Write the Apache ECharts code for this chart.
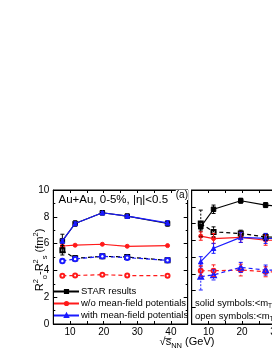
<!DOCTYPE html>
<html>
<head>
<meta charset="utf-8">
<script src="https://cdn.jsdelivr.net/npm/echarts@6/dist/echarts.min.js"></script>
<style>html,body{margin:0;padding:0;background:#fff;overflow:hidden}#c{width:400px;height:352px}</style>
</head>
<body>
<div id="c"></div>
<script>
// ---- data ----
const energies = [7.7, 11.5, 19.6, 27, 39];
const xTickLabels = [10, 20, 30, 40];
const yTickLabels = [0, 2, 4, 6, 8, 10];

// left panel (a)
const starSolidL = [6.2, 7.5, 8.3, 8.05, 7.5];
const starSolidLErr = [0.5, 0.2, 0.15, 0.15, 0.2];
const starOpenL = [5.5, 4.9, 5.05, 5.0, 4.75];
const starOpenLErr = [0.35, 0.2, 0.15, 0.15, 0.15];
const redSolidL = [5.82, 5.88, 5.95, 5.8, 5.85];
const redOpenL = [3.6, 3.62, 3.68, 3.62, 3.6];
const blueSolidL = [6.2, 7.5, 8.3, 8.05, 7.55];
const blueSolidLErr = [0.12, 0.12, 0.1, 0.1, 0.15];
const blueOpenL = [4.7, 4.85, 5.05, 4.95, 4.75];
const blueOpenLErr = [0.1, 0.12, 0.1, 0.1, 0.15];

// right panel (cut off)
const starSolidR = [5.8, 6.85, 7.36, 7.1, 6.9];
const starSolidRErr = [0.25, 0.25, 0.15, 0.15, 0.15];
const starOpenR = [6.0, 5.5, 5.4, 5.2, 5.1];
const starOpenRErr = [0.8, 0.3, 0.2, 0.2, 0.2];
const redSolidR = [5.25, 5.1, 5.17, 5.0, 5.0];
const redSolidRErr = [0.25, 0.3, 0.3, 0.3, 0.3];
const blueSolidR = [3.72, 4.52, 5.17, 5.11, 5.1];
const blueSolidRErr = [0.3, 0.3, 0.3, 0.3, 0.3];
const redOpenR = [3.18, 3.18, 3.22, 3.12, 3.1];
const redOpenRErr = [0.3, 0.35, 0.35, 0.3, 0.3];
const blueOpenR = [2.83, 2.93, 3.38, 3.22, 3.2];
const blueOpenRErr = [0.8, 0.3, 0.3, 0.3, 0.3];

const FONT = '"Liberation Sans", Arial, sans-serif';
const BLACK = '#000000', RED = '#ff1a1a', BLUE = '#1a1aff';

const zip = (v) => energies.map((x, i) => [x, v[i]]);
const zipE = (v, e) => energies.map((x, i) => [x, v[i], e[i]]);

function errSeries(v, e, color, xi, yi, dashed) {
  return {
    type: 'custom', xAxisIndex: xi, yAxisIndex: yi, z: 3, silent: true,
    data: zipE(v, e),
    renderItem: function (params, api) {
      const x = api.value(0), y = api.value(1), er = api.value(2);
      const p1 = api.coord([x, y + er]);
      const p2 = api.coord([x, y - er]);
      const w = 2;
      const st = { stroke: color, lineWidth: 1, lineDash: dashed ? [2, 1.5] : null };
      return {
        type: 'group',
        children: [
          { type: 'line', shape: { x1: p1[0], y1: p1[1], x2: p2[0], y2: p2[1] }, style: st },
          { type: 'line', shape: { x1: p1[0] - w, y1: p1[1], x2: p1[0] + w, y2: p1[1] }, style: { stroke: color, lineWidth: 1 } },
          { type: 'line', shape: { x1: p2[0] - w, y1: p2[1], x2: p2[0] + w, y2: p2[1] }, style: { stroke: color, lineWidth: 1 } }
        ]
      };
    }
  };
}

function lineSeries(name, v, color, symbol, size, dashed, xi, yi, z) {
  return {
    name: name, type: 'line', xAxisIndex: xi, yAxisIndex: yi, z: z || 2,
    data: zip(v), symbol: symbol, symbolSize: size,
    lineStyle: { color: color, width: 1.2, type: dashed ? [4, 3] : 'solid' },
    itemStyle: { color: color, borderColor: color, borderWidth: 1 },
    emphasis: { disabled: true }
  };
}

const xAxisBase = (gi, pos, showLabel) => ({
  gridIndex: gi, type: 'value', position: pos, min: 5, max: 45, interval: 5,
  axisLine: { show: true, onZero: false, lineStyle: { color: BLACK, width: 1 } },
  axisTick: { show: true, inside: true, length: 3, lineStyle: { color: BLACK } },
  axisLabel: {
    show: showLabel, color: BLACK, fontSize: 10, fontFamily: FONT, margin: 3,
    formatter: (v) => (xTickLabels.indexOf(v) >= 0 ? String(v) : '')
  },
  splitLine: { show: false }
});

const option = {
  animation: false,
  backgroundColor: '#fff',
  grid: [
    { left: 53.3, top: 190, width: 134.4, height: 134, show: true, borderColor: BLACK, borderWidth: 1, backgroundColor: 'transparent' },
    { left: 191.7, top: 190, width: 134.4, height: 134, show: true, borderColor: BLACK, borderWidth: 1, backgroundColor: 'transparent' }
  ],
  xAxis: [
    xAxisBase(0, 'bottom', true),
    xAxisBase(1, 'bottom', true),
    xAxisBase(0, 'top', false),
    xAxisBase(1, 'top', false)
  ],
  yAxis: [
    {
      gridIndex: 0, type: 'value', min: 0, max: 10, interval: 2,
      axisLine: { show: true, lineStyle: { color: BLACK } },
      axisTick: { show: true, inside: true, length: 4, lineStyle: { color: BLACK } },
      minorTick: { show: true, splitNumber: 2, length: 2, lineStyle: { color: BLACK } },
      axisLabel: { color: BLACK, fontSize: 10, fontFamily: FONT, margin: 4,
        formatter: (v) => (yTickLabels.indexOf(v) >= 0 ? String(v) : '') },
      splitLine: { show: false }
    },
    {
      gridIndex: 0, type: 'value', position: 'right', min: 0, max: 10, interval: 2,
      axisLine: { show: true, lineStyle: { color: BLACK } },
      axisTick: { show: true, inside: true, length: 4, lineStyle: { color: BLACK } },
      minorTick: { show: true, splitNumber: 2, length: 2, lineStyle: { color: BLACK } },
      axisLabel: { show: false }, splitLine: { show: false }
    },
    {
      gridIndex: 1, type: 'value', min: 0, max: 8, interval: 1,
      axisLine: { show: true, lineStyle: { color: BLACK } },
      axisTick: { show: true, inside: true, length: 4, lineStyle: { color: BLACK } },
      axisLabel: { show: false }, splitLine: { show: false }
    }
  ],
  legend: {
    data: ['STAR results', 'w/o mean-field potentials', 'with mean-field potentials'],
    orient: 'vertical', left: 53, top: 286.5,
    itemWidth: 25, itemHeight: 4, itemGap: 2, padding: 0,
    selectedMode: false,
    textStyle: { color: BLACK, fontSize: 9.5, fontFamily: FONT, lineHeight: 10, padding: [0, 0, 0, -3] }
  },
  series: [
    // left panel
    lineSeries('w/o open L', redOpenL, RED, 'emptyCircle', 4, true, 0, 0),
    lineSeries('STAR open L', starOpenL, BLACK, 'emptyRect', 4, true, 0, 0),
    errSeries(starOpenL, starOpenLErr, BLACK, 0, 0, false),
    lineSeries('with open L', blueOpenL, BLUE, 'emptyCircle', 4.5, true, 0, 0, 4),
    errSeries(blueOpenL, blueOpenLErr, BLUE, 0, 0, false),
    lineSeries('w/o mean-field potentials', redSolidL, RED, 'circle', 4, false, 0, 0),
    lineSeries('STAR results', starSolidL, BLACK, 'rect', 4.5, false, 0, 0),
    errSeries(starSolidL, starSolidLErr, BLACK, 0, 0, false),
    lineSeries('with mean-field potentials', blueSolidL, BLUE, 'triangle', 4.5, false, 0, 0, 4),
    errSeries(blueSolidL, blueSolidLErr, BLUE, 0, 0, false),
    // right panel
    lineSeries('STAR open R', starOpenR, BLACK, 'emptyRect', 4, true, 1, 2),
    errSeries(starOpenR, starOpenRErr, BLACK, 1, 2, true),
    lineSeries('STAR solid R', starSolidR, BLACK, 'rect', 4.5, false, 1, 2),
    errSeries(starSolidR, starSolidRErr, BLACK, 1, 2, false),
    lineSeries('red solid R', redSolidR, RED, 'circle', 4, false, 1, 2),
    errSeries(redSolidR, redSolidRErr, RED, 1, 2, false),
    lineSeries('blue solid R', blueSolidR, BLUE, 'triangle', 4.5, false, 1, 2),
    errSeries(blueSolidR, blueSolidRErr, BLUE, 1, 2, false),
    lineSeries('red open R', redOpenR, RED, 'emptyCircle', 4, true, 1, 2),
    errSeries(redOpenR, redOpenRErr, RED, 1, 2, true),
    lineSeries('blue open R', blueOpenR, BLUE, 'emptyTriangle', 4.5, true, 1, 2),
    errSeries(blueOpenR, blueOpenRErr, BLUE, 1, 2, true)
  ],
  graphic: [
    { type: 'text', x: 58.5, y: 200, z: 10,
      style: { text: 'Au+Au, 0-5%, |\u03b7|<0.5', fontSize: 11.5, fontFamily: FONT, fill: BLACK, verticalAlign: 'middle' } },
    { type: 'text', x: 188, y: 195, z: 10,
      style: { text: '(a)', fontSize: 10, fontFamily: FONT, fill: BLACK, align: 'right', verticalAlign: 'middle', backgroundColor: '#fff' } },
    { type: 'text', x: 195, y: 303, z: 10,
      style: { text: '{a|solid symbols:<m}{s|T}{a|>=0.15-0.25 GeV}', fill: BLACK,
        rich: { a: { fontSize: 9.5, fontFamily: FONT, lineHeight: 13, verticalAlign: 'middle' },
                s: { fontSize: 6.5, fontFamily: FONT, lineHeight: 7, verticalAlign: 'bottom' } },
        verticalAlign: 'middle' } },
    { type: 'text', x: 195, y: 316, z: 10,
      style: { text: '{a|open symbols:<m}{s|T}{a|>=0.35-0.45 GeV}', fill: BLACK,
        rich: { a: { fontSize: 9.5, fontFamily: FONT, lineHeight: 13, verticalAlign: 'middle' },
                s: { fontSize: 6.5, fontFamily: FONT, lineHeight: 7, verticalAlign: 'bottom' } },
        verticalAlign: 'middle' } },
    { type: 'text', x: 40, y: 260, rotation: Math.PI / 2, z: 10,
      style: { text: '{a|R}{sp|2}{sb|o}{a|-R}{sp|2}{sb|s}{a| (fm}{sp|2}{a|)}', fill: BLACK,
        align: 'center', verticalAlign: 'middle',
        rich: { a: { fontSize: 11, fontFamily: FONT, lineHeight: 17, verticalAlign: 'middle' },
                sp: { fontSize: 7.5, fontFamily: FONT, lineHeight: 8, verticalAlign: 'top' },
                sb: { fontSize: 7.5, fontFamily: FONT, lineHeight: 8, verticalAlign: 'bottom' } } } },
    { type: 'text', x: 187, y: 342, z: 10,
      style: { text: '{a|\u221as\u0305}{sb|NN}{a| (GeV)}', fill: BLACK, align: 'center', verticalAlign: 'middle',
        rich: { a: { fontSize: 11, fontFamily: FONT, lineHeight: 15, verticalAlign: 'middle' },
                sb: { fontSize: 7.5, fontFamily: FONT, lineHeight: 8, verticalAlign: 'bottom' } } } }
  ]
};

const chart = echarts.init(document.getElementById('c'), null, { renderer: 'canvas', width: 400, height: 352 });
chart.setOption(option);
</script>
</body>
</html>
